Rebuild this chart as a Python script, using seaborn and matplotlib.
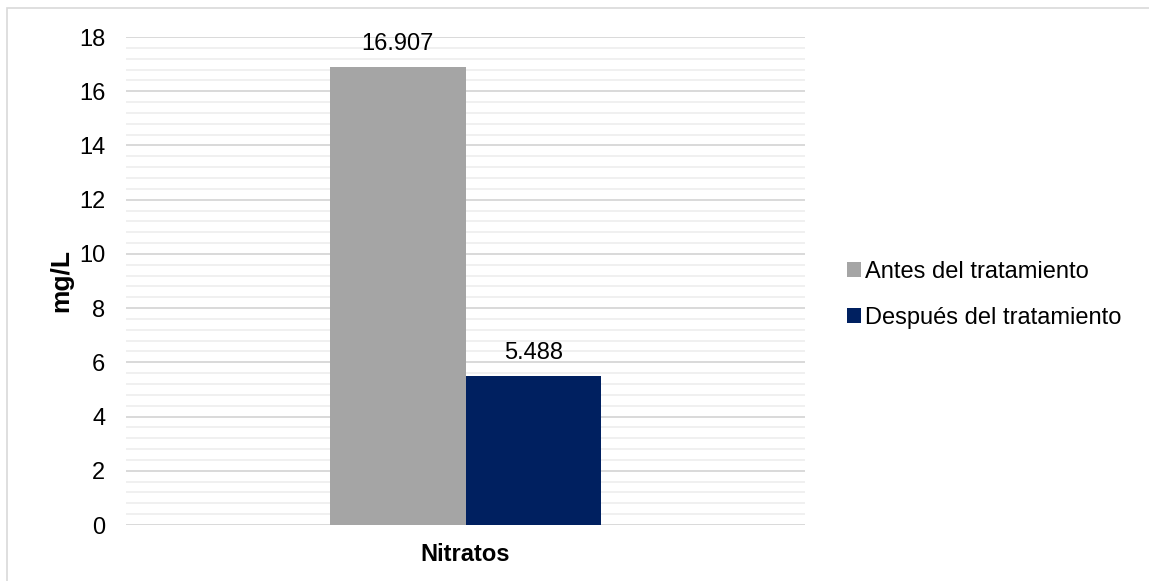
import matplotlib
matplotlib.use("Agg")
import matplotlib.pyplot as plt
from matplotlib.patches import Rectangle
from matplotlib.ticker import MultipleLocator
import seaborn as sns
import pandas as pd

categories = ["Nitratos"]
series = ["Antes del tratamiento", "Después del tratamiento"]
values = [16.907, 5.488]
labels = ["16.907", "5.488"]
colors = ["#A5A5A5", "#002060"]

df = pd.DataFrame({
    "categoria": categories * len(series),
    "serie": series,
    "valor": values,
})

sns.set_theme(style="white")
plt.rcParams["font.family"] = ["Liberation Sans", "DejaVu Sans"]
plt.rcParams.update({"text.color": "black", "axes.labelcolor": "black",
                     "xtick.labelcolor": "black", "ytick.labelcolor": "black"})

FS = 17
W, H, DPI = 1149, 581, 100
fig = plt.figure(figsize=(W / DPI, H / DPI), dpi=DPI)
ax = fig.add_axes([126 / W, 1 - 525 / H, (805 - 126) / W, (525 - 37) / H])

sns.barplot(data=df, x="categoria", y="valor", hue="serie",
            palette=colors, width=0.4, saturation=1, ax=ax, legend=True,
            edgecolor="none", zorder=3)

ax.set_xlim(-0.5, 0.5)
ax.set_ylim(0, 18)
ax.yaxis.set_major_locator(MultipleLocator(2))
ax.yaxis.set_minor_locator(MultipleLocator(0.4))
ax.grid(which="major", axis="y", color="#D9D9D9", linewidth=1.4, zorder=0)
ax.grid(which="minor", axis="y", color="#F0F0F0", linewidth=1.4, zorder=0)
ax.set_axisbelow(True)
for s in ax.spines.values():
    s.set_visible(False)
ax.tick_params(axis="y", which="both", length=0, labelsize=FS, pad=15, labelcolor="black")
ax.tick_params(axis="x", length=0, pad=13, labelcolor="black")
for t in ax.get_xticklabels():
    t.set_fontweight("bold")
    t.set_fontsize(FS)
ax.set_xlabel("")
ax.set_ylabel("mg/L", fontsize=19, fontweight="bold", labelpad=4, color="black")

for cont, lab in zip(ax.containers, labels):
    ax.bar_label(cont, labels=[lab], padding=8.5, fontsize=FS, color="black")

handles, leg_labels = ax.get_legend_handles_labels()
leg = ax.legend(handles, leg_labels, loc="center left", bbox_to_anchor=(847 / W, 1 - 295 / H),
                bbox_transform=fig.transFigure, frameon=False, fontsize=FS,
                borderpad=0, borderaxespad=0,
                handlelength=0.6, handleheight=0.6, handletextpad=0.15, labelspacing=1.0)
for txt in leg.get_texts():
    txt.set_color("black")

fig.patches.append(Rectangle((7 / W, -0.1), 1.2, 1 - 8 / H + 0.1,
                             transform=fig.transFigure, fill=False,
                             edgecolor="#D9D9D9", linewidth=1.2))

fig.savefig("out.png", dpi=DPI, facecolor="white")
